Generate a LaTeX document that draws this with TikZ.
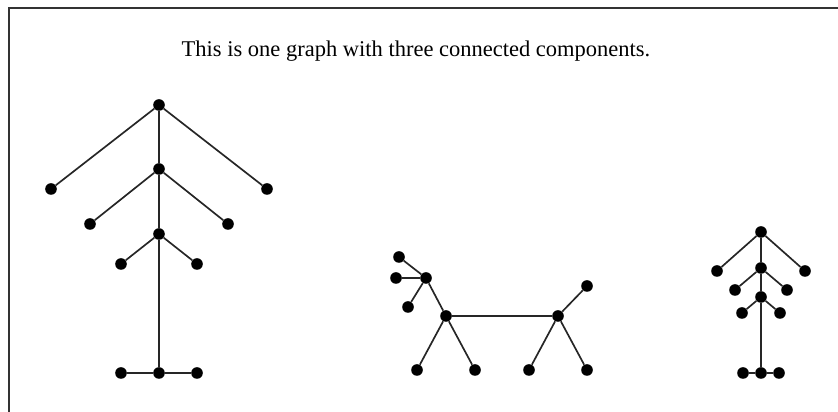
\documentclass[tikz,border=0pt]{standalone}
\usepackage{fontspec}
\setmainfont{Liberation Serif}
\usepackage{tikz}
\usetikzlibrary{positioning}

\begin{document}
\begin{tikzpicture}[
        x=0.025cm, y=-0.025cm,
        dot/.style={circle, fill=black, inner sep=0pt, minimum size=0.29cm},
        edge/.style={line width=1.2pt, black!85},
        frame/.style={line width=1.2pt, black!80}
    ]
    \useasboundingbox (0,0) rectangle (838,412);
    \draw[frame] (9,420) -- (9,8) -- (845,8);

    \node[font=\fontsize{16}{19}\selectfont] (title) at (416,51) {This is one graph with three connected components.};

    % first component
    \node[dot] (a0) at (159,105) {};
    \node[dot] (a1) at (51,189) {};
    \node[dot] (a2) at (267,189) {};
    \node[dot] (a3) at (159,169) {};
    \node[dot] (a4) at (90,224) {};
    \node[dot] (a5) at (228,224) {};
    \node[dot] (a6) at (159,234) {};
    \node[dot] (a7) at (121,264) {};
    \node[dot] (a8) at (197,264) {};
    \node[dot] (a9) at (159,373) {};
    \node[dot] (a10) at (121,373) {};
    \node[dot] (a11) at (197,373) {};

    \draw[edge] (a0) -- (a1);
    \draw[edge] (a0) -- (a2);
    \draw[edge] (a0) -- (a3);
    \draw[edge] (a3) -- (a4);
    \draw[edge] (a3) -- (a5);
    \draw[edge] (a3) -- (a6);
    \draw[edge] (a6) -- (a7);
    \draw[edge] (a6) -- (a8);
    \draw[edge] (a6) -- (a9);
    \draw[edge] (a10) -- (a9);
    \draw[edge] (a9) -- (a11);

    % second component
    \node[dot] (b0) at (426,278) {};
    \node[dot] (b1) at (399,257) {};
    \node[dot] (b2) at (396,278) {};
    \node[dot] (b3) at (408,307) {};
    \node[dot] (b4) at (446,316) {};
    \node[dot] (b5) at (417,370) {};
    \node[dot] (b6) at (475,370) {};
    \node[dot] (b7) at (558,316) {};
    \node[dot] (b8) at (587,286) {};
    \node[dot] (b9) at (529,370) {};
    \node[dot] (b10) at (587,370) {};

    \draw[edge] (b0) -- (b1);
    \draw[edge] (b0) -- (b2);
    \draw[edge] (b0) -- (b3);
    \draw[edge] (b0) -- (b4);
    \draw[edge] (b4) -- (b5);
    \draw[edge] (b4) -- (b6);
    \draw[edge] (b4) -- (b7);
    \draw[edge] (b7) -- (b8);
    \draw[edge] (b7) -- (b9);
    \draw[edge] (b7) -- (b10);

    % third component
    \node[dot] (c0) at (761,232) {};
    \node[dot] (c1) at (717,271) {};
    \node[dot] (c2) at (805,271) {};
    \node[dot] (c3) at (761,268) {};
    \node[dot] (c4) at (735,290) {};
    \node[dot] (c5) at (787,290) {};
    \node[dot] (c6) at (761,297) {};
    \node[dot] (c7) at (742,313) {};
    \node[dot] (c8) at (780,313) {};
    \node[dot] (c9) at (761,373) {};
    \node[dot] (c10) at (743,373) {};
    \node[dot] (c11) at (779,373) {};

    \draw[edge] (c0) -- (c1);
    \draw[edge] (c0) -- (c2);
    \draw[edge] (c0) -- (c3);
    \draw[edge] (c3) -- (c4);
    \draw[edge] (c3) -- (c5);
    \draw[edge] (c3) -- (c6);
    \draw[edge] (c6) -- (c7);
    \draw[edge] (c6) -- (c8);
    \draw[edge] (c6) -- (c9);
    \draw[edge] (c10) -- (c9);
    \draw[edge] (c9) -- (c11);

\end{tikzpicture}
\end{document}
